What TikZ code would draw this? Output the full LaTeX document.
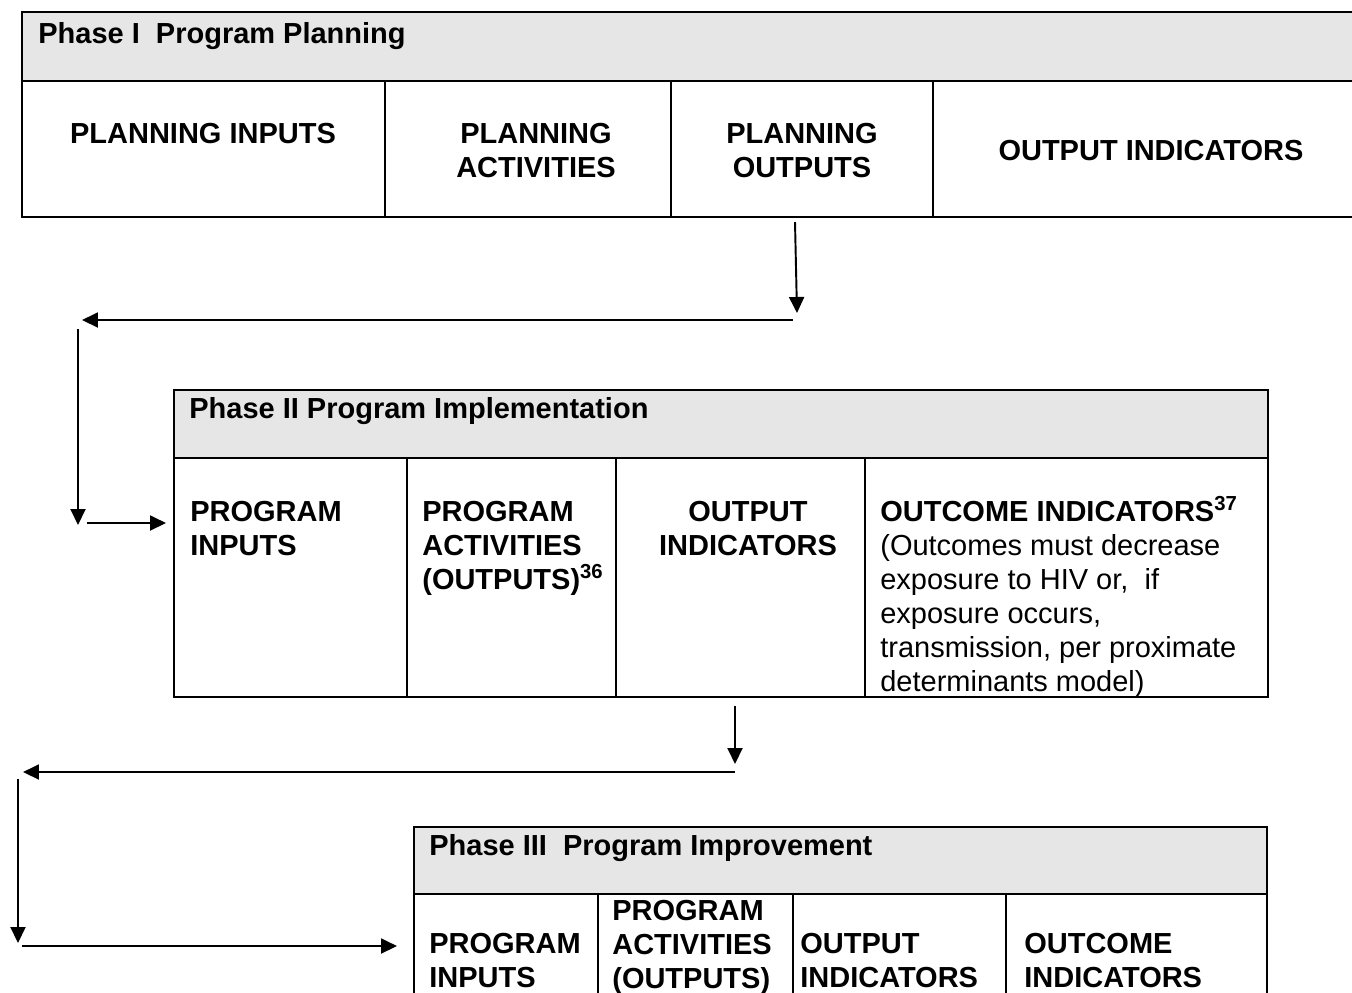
\documentclass[tikz,border=0pt]{standalone}
\usepackage{fontspec}
\setmainfont{Liberation Sans}
\usetikzlibrary{arrows.meta}
\definecolor{hdrgray}{HTML}{E6E6E6}
\newcommand{\cellfont}{\fontsize{16.5}{19.35}\selectfont}
\begin{document}
\begin{tikzpicture}[
    x=0.02cm, y=-0.02cm,
    tbl/.style={draw, line width=1.1pt},
    hdr/.style={tbl, fill=hdrgray},
    lbl/.style={inner sep=0pt, anchor=base west, align=left, font=\cellfont\bfseries},
    lblc/.style={lbl, anchor=base, align=center},
    arr/.style={line width=1.1pt, -{Triangle[length=0.32cm, width=0.3cm]}}]
  \useasboundingbox (0,0) rectangle (1352,992);
  \clip (0,0) rectangle (1352,992);
  % phase I (multi-line labels sit on their last baseline)
  \draw[hdr] (22,12) rectangle (1400,81);
  \draw[tbl] (22,81) rectangle (1400,217);
  \foreach \x in {385,671,933} \draw[tbl] (\x,81) -- (\x,217);
  \node[lbl] (p1head) at (38,43) {Phase I~~Program Planning};
  \node[lblc] (p1in) at (203,143) {PLANNING INPUTS};
  \node[lblc] (p1act) at (536,177) {PLANNING\\ACTIVITIES};
  \node[lblc] (p1out) at (802,177) {PLANNING\\OUTPUTS};
  \node[lblc] (p1ind) at (1151,160) {OUTPUT INDICATORS};
  % phase II
  \draw[hdr] (174,390) rectangle (1268,458);
  \draw[tbl] (174,458) rectangle (1268,697);
  \foreach \x in {407,616,865} \draw[tbl] (\x,458) -- (\x,697);
  \node[lbl] (p2head) at (189,418) {Phase II Program Implementation};
  \node[lbl] (p2in) at (190,555) {PROGRAM\\INPUTS};
  \node[lbl] (p2act) at (422,589) {PROGRAM\\ACTIVITIES\\(OUTPUTS)\textsuperscript{36}};
  \node[lblc] (p2ind) at (748,555) {OUTPUT\\INDICATORS};
  \node[lbl, font=\cellfont] (p2outc) at (880,691)
       {\textbf{OUTCOME INDICATORS\textsuperscript{37}}\\(Outcomes must decrease\\exposure to HIV or,~ if\\exposure occurs,\\transmission, per proximate\\determinants model)};
  % phase III
  \draw[hdr] (414,827) rectangle (1267,894);
  \draw[tbl] (414,894) rectangle (1267,1010);
  \foreach \x in {598,793,1006} \draw[tbl] (\x,894) -- (\x,1010);
  \node[lbl] (p3head) at (429,855) {Phase III~~Program Improvement};
  \node[lbl] (p3in) at (429,987) {PROGRAM\\INPUTS};
  \node[lbl] (p3act) at (612,988) {PROGRAM\\ACTIVITIES\\(OUTPUTS)};
  \node[lbl] (p3ind) at (800,987) {OUTPUT\\INDICATORS};
  \node[lbl] (p3outc) at (1024,987) {OUTCOME\\INDICATORS};
  % loop from phase I to phase II
  \coordinate (p1s) at (795,222);  \coordinate (p1d) at (797,313);
  \coordinate (p1r) at (793,320);  \coordinate (p1l) at (82,320);
  \coordinate (p1u) at (78,329);   \coordinate (p1b) at (78,525);
  \coordinate (p2w) at (87,523);   \coordinate (p2e) at (166,523);
  \draw[arr] (p1s) -- (p1d);
  \draw[arr] (p1r) -- (p1l);
  \draw[arr] (p1u) -- (p1b);
  \draw[arr] (p2w) -- (p2e);
  % loop from phase II to phase III
  \coordinate (p2s) at (735,706);  \coordinate (p2d) at (735,764);
  \coordinate (p2r) at (735,772);  \coordinate (p2l) at (23,772);
  \coordinate (p2u) at (18,779);   \coordinate (p2b) at (18,943);
  \coordinate (p3w) at (22,946);   \coordinate (p3e) at (397,946);
  \draw[arr] (p2s) -- (p2d);
  \draw[arr] (p2r) -- (p2l);
  \draw[arr] (p2u) -- (p2b);
  \draw[arr] (p3w) -- (p3e);
\end{tikzpicture}
\end{document}
